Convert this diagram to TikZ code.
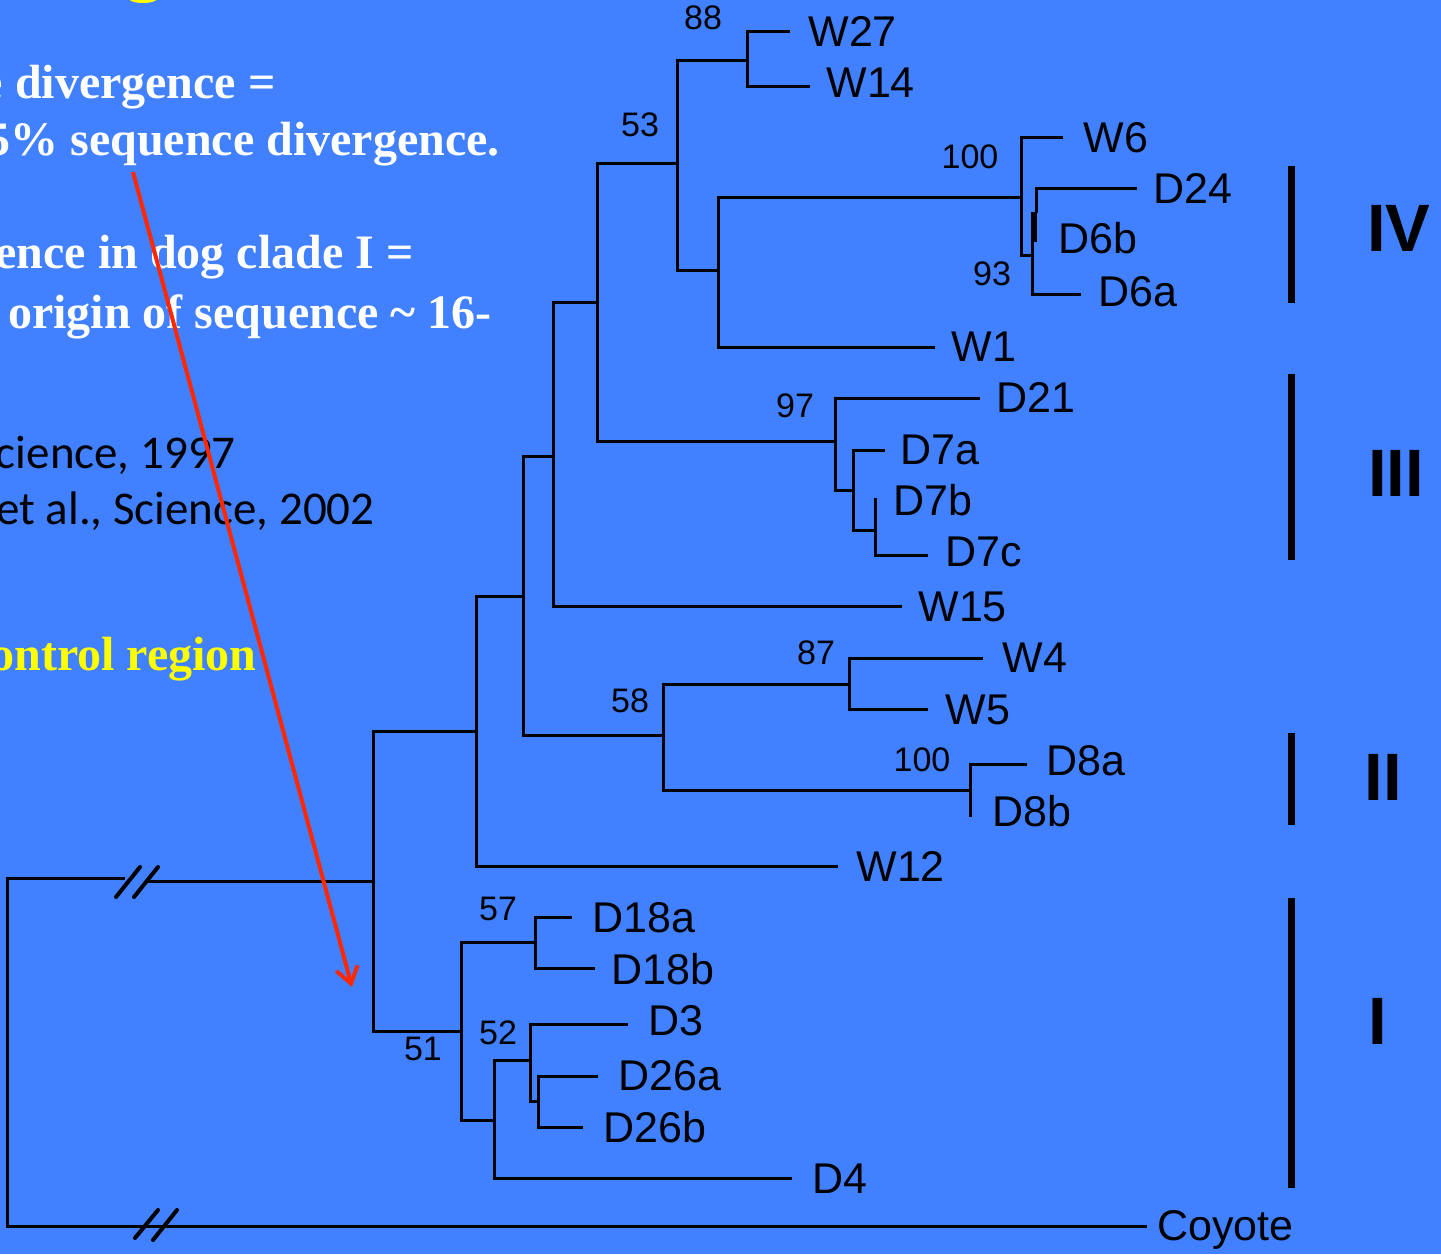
\documentclass[tikz,border=0pt]{standalone}
\usepackage{fontspec}
\setmainfont{Liberation Serif}
\newfontfamily\labfont{Liberation Sans}
\newfontfamily\calfont{Carlito}
\usetikzlibrary{arrows.meta}
\definecolor{bgblue}{RGB}{65,128,255}
\definecolor{redarrow}{RGB}{255,40,0}
\definecolor{ylw}{RGB}{255,255,0}
\tikzset{
  branch/.style={line width=1.5pt, black},
  leaflab/.style={anchor=base west, inner sep=0pt, font=\labfont\fontsize{21.5}{24}\selectfont},
  boot/.style={anchor=center, inner sep=0pt, font=\labfont\fontsize{17}{19}\selectfont},
  cladebar/.style={line width=3.5pt, black},
  cladelab/.style={anchor=center, inner sep=0pt, font=\labfont\bfseries\fontsize{33.5}{36}\selectfont},
  serifw/.style={anchor=base east, inner sep=0pt, text=white, font=\bfseries\fontsize{24}{28}\selectfont},
  sansb/.style={anchor=base east, inner sep=0pt, text=black, font=\calfont\fontsize{23.5}{28}\selectfont},
  breakmark/.style={line width=2pt, black, line cap=round},
}
\begin{document}
\begin{tikzpicture}[x=0.5pt,y=-0.5pt]
\useasboundingbox (0,0) rectangle (1441,1254);
\clip (0,0) rectangle (1441,1254);
\fill[bgblue] (0,0) rectangle (1441,1254);
\fill[ylw] (143,-1) ellipse [x radius=6.8pt, y radius=2pt];

% left text
\node[serifw] (t1) at (276,98) {e divergence =};
\node[serifw] (t2) at (500,155) {5\% sequence divergence.};
\node[serifw] (t3) at (414,268) {ence in dog clade I =};
\node[serifw] (t4) at (492,328) {origin of sequence \textasciitilde{} 16-};
\node[sansb] (t5) at (236,468) {cience, 1997};
\node[sansb] (t6) at (375,524) {et al., Science, 2002};
\node[serifw, text=ylw] (t7) at (257,670) {ontrol region};

% coordinates: internal nodes
\coordinate (n88) at (747,60);
\coordinate (n53) at (677,163);
\coordinate (nW1) at (718,270);
\coordinate (n100a) at (1021,197);
\coordinate (n93) at (1032,255);
\coordinate (nD24) at (1036,213);
\coordinate (n597) at (597,302);
\coordinate (n97) at (835,441);
\coordinate (nD7) at (853,490);
\coordinate (nD7bc) at (875,530);
\coordinate (n553) at (553,456);
\coordinate (n523) at (523,596);
\coordinate (n58) at (663,735);
\coordinate (n87) at (849,684);
\coordinate (nD8) at (970,790);
\coordinate (n476) at (476,731);
\coordinate (n373) at (373,881);
\coordinate (n51) at (461,1031);
\coordinate (n57) at (535,942);
\coordinate (n494) at (494,1120);
\coordinate (n52) at (530,1060);
\coordinate (nD26) at (538,1101);
% tips
\coordinate (tW27) at (790,31);
\coordinate (tW14) at (810,86);
\coordinate (tW6) at (1063,137);
\coordinate (tD24) at (1137,188);
\coordinate (tD6a) at (1081,294);
\coordinate (tW1) at (935,347);
\coordinate (tD21) at (980,398);
\coordinate (tD7a) at (885,450);
\coordinate (tD7b) at (875,498);
\coordinate (tD7c) at (928,555);
\coordinate (tW15) at (902,606);
\coordinate (tW4) at (983,658);
\coordinate (tW5) at (928,709);
\coordinate (tD8a) at (1027,764);
\coordinate (tD8b) at (970,817);
\coordinate (tW12) at (838,866);
\coordinate (tD18a) at (572,917);
\coordinate (tD18b) at (595,968);
\coordinate (tD3) at (628,1024);
\coordinate (tD26a) at (598,1076);
\coordinate (tD26b) at (583,1127);
\coordinate (tD4) at (792,1178);
\coordinate (tCoy) at (1147,1226);
\coordinate (rootL) at (7,878);
\coordinate (brkL) at (125,878);
\coordinate (brkR) at (146,881);

% branches
\draw[branch] (n88) |- (tW27) (n88) |- (tW14);
\draw[branch] (n53) |- (n88) (n53) |- (nW1);
\draw[branch] (nW1) |- (n100a) (nW1) |- (tW1);
\draw[branch] (n100a) |- (tW6) (n100a) |- (n93);
\draw[branch] (n93) |- (tD6a) (n93) |- (nD24);
\draw[branch] (nD24) |- (tD24);
\draw[branch, line width=2.6pt] (1034.5,213) -- (1034.5,242);
\draw[branch] (n597) |- (n53) (n597) |- (n97);
\draw[branch] (n97) |- (tD21) (n97) |- (nD7);
\draw[branch] (nD7) |- (tD7a) (nD7) |- (nD7bc);
\draw[branch] (nD7bc) |- (tD7c) (nD7bc) |- (tD7b);
\draw[branch] (n553) |- (n597) (n553) |- (tW15);
\draw[branch] (n523) |- (n553) (n523) |- (n58);
\draw[branch] (n58) |- (n87) (n58) |- (nD8);
\draw[branch] (n87) |- (tW4) (n87) |- (tW5);
\draw[branch] (nD8) |- (tD8a) (nD8) |- (tD8b);
\draw[branch] (n476) |- (n523) (n476) |- (tW12);
\draw[branch] (n373) |- (n476) (n373) |- (n51);
\draw[branch] (n51) |- (n57) (n51) |- (n494);
\draw[branch] (n57) |- (tD18a) (n57) |- (tD18b);
\draw[branch] (n494) |- (n52) (n494) |- (tD4);
\draw[branch] (n52) |- (tD3) (n52) |- (nD26);
\draw[branch] (nD26) |- (tD26a) (nD26) |- (tD26b);
\draw[branch] (n373) -- (brkR);
\draw[branch] (brkL) -- (rootL) |- (tCoy);

% break marks
\draw[breakmark] (116,897) -- (140,867);
\draw[breakmark] (134,897) -- (158,867);
\draw[breakmark] (135,1238) -- (158,1210);
\draw[breakmark] (153,1240) -- (177,1210);

% leaf labels
\node[leaflab] (lW27) at (808,46) {W27};
\node[leaflab] (lW14) at (826,97) {W14};
\node[leaflab] (lW6) at (1083,152) {W6};
\node[leaflab] (lD24) at (1153,203) {D24};
\node[leaflab] (lD6b) at (1058,253) {D6b};
\node[leaflab] (lD6a) at (1098,306) {D6a};
\node[leaflab] (lW1) at (951,361) {W1};
\node[leaflab] (lD21) at (996,412) {D21};
\node[leaflab] (lD7a) at (900,464) {D7a};
\node[leaflab] (lD7b) at (893,515) {D7b};
\node[leaflab] (lD7c) at (945,566) {D7c};
\node[leaflab] (lW15) at (918,621) {W15};
\node[leaflab] (lW4) at (1002,672) {W4};
\node[leaflab] (lW5) at (945,724) {W5};
\node[leaflab] (lD8a) at (1046,775) {D8a};
\node[leaflab] (lD8b) at (992,826) {D8b};
\node[leaflab] (lW12) at (856,881) {W12};
\node[leaflab] (lD18a) at (592,932) {D18a};
\node[leaflab] (lD18b) at (611,984) {D18b};
\node[leaflab] (lD3) at (648,1035) {D3};
\node[leaflab] (lD26a) at (618,1090) {D26a};
\node[leaflab] (lD26b) at (603,1142) {D26b};
\node[leaflab] (lD4) at (812,1193) {D4};
\node[leaflab] (lCoy) at (1157,1240) {Coyote};

% bootstrap values
\node[boot] (b88) at (703,18) {88};
\node[boot] (b53) at (640,125) {53};
\node[boot] (b100a) at (970,157) {100};
\node[boot] (b93) at (992,274) {93};
\node[boot] (b97) at (795,406) {97};
\node[boot] (b87) at (816,653) {87};
\node[boot] (b58) at (630,701) {58};
\node[boot] (b100b) at (922,760) {100};
\node[boot] (b57) at (498,909) {57};
\node[boot] (b52) at (498,1033) {52};
\node[boot] (b51) at (423,1049) {51};

% clade bars and labels
\draw[cladebar] (1291,166) -- (1291,303);
\draw[cladebar] (1291,374) -- (1291,560);
\draw[cladebar] (1291,733) -- (1291,825);
\draw[cladebar] (1291,898) -- (1291,1188);
\node[cladelab] (cIV) at (1399,228) {IV};
\node[cladelab] (cIII) at (1396,473) {III};
\node[cladelab] (cII) at (1383,777) {II};
\node[cladelab] (cI) at (1378,1021) {I};

% red arrow
\coordinate (arrS) at (133,172);
\coordinate (arrE) at (352,987);
\draw[redarrow, line width=2pt, -{Straight Barb[length=8pt,width=11pt]}] (arrS) -- (arrE);
\end{tikzpicture}
\end{document}
